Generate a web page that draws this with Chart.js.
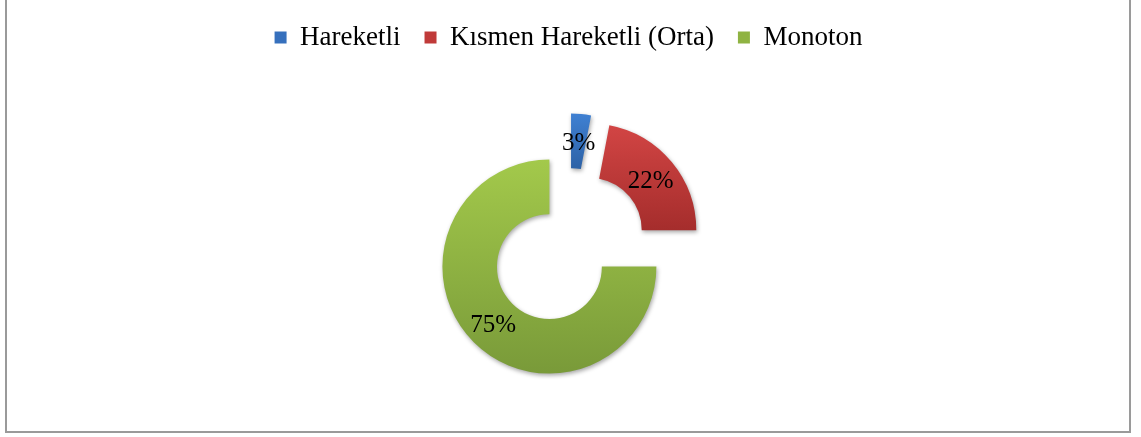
<!DOCTYPE html>
<html>
<head>
<meta charset="utf-8">
<script src="https://cdn.jsdelivr.net/npm/chart.js@4/dist/chart.umd.min.js"></script>
<style>
  body { margin: 0; background: #fff; overflow: hidden; }
  #wrap { position: relative; width: 1141px; height: 437px; }
  #frame {
    position: absolute; left: 5px; top: -10px; width: 1122px; height: 439px;
    border: 2px solid #9a9a9a; box-sizing: content-box; pointer-events: none;
  }
</style>
</head>
<body>
<div id="wrap">
  <canvas id="myDoughnut"></canvas>
  <div id="frame"></div>
</div>
<script>
// data
const categories = ["Hareketli", "Kısmen Hareketli (Orta)", "Monoton"];
const percentages = [3, 22, 75];

// top / bottom colours of each slice's gradient
const topColors = ["#3f80d2", "#d24544", "#a3c94b"];
const bottomColors = ["#2d62a6", "#a52d2c", "#799a39"];
const boxColors = ["#3670bd", "#c03a39", "#8fb342"];

const EXPLODE = 27; // how far each slice is pulled out

// draws each slice moved outwards along its middle angle, with a vertical gradient
const explodePlugin = {
  id: "explode",
  beforeDatasetDraw(chart, args) {
    const ctx = chart.ctx;
    args.meta.data.forEach((arc, i) => {
      const mid = (arc.startAngle + arc.endAngle) / 2;

      // vertical extent of the slice, for the gradient
      let top = Infinity, bottom = -Infinity;
      for (let k = 0; k <= 40; k++) {
        const a = arc.startAngle + (arc.endAngle - arc.startAngle) * k / 40;
        [arc.innerRadius, arc.outerRadius].forEach((r) => {
          const y = arc.y + Math.sin(a) * r;
          top = Math.min(top, y);
          bottom = Math.max(bottom, y);
        });
      }
      const grad = ctx.createLinearGradient(0, top, 0, bottom);
      grad.addColorStop(0, topColors[i]);
      grad.addColorStop(1, bottomColors[i]);
      arc.options.backgroundColor = grad;

      ctx.save();
      ctx.translate(Math.cos(mid) * EXPLODE, Math.sin(mid) * EXPLODE);
      ctx.shadowColor = "rgba(0, 0, 0, 0.35)";
      ctx.shadowBlur = 4;
      ctx.shadowOffsetX = 1;
      ctx.shadowOffsetY = 2;
      arc.draw(ctx);
      ctx.restore();
    });
    return false;
  },
  afterDatasetsDraw(chart) {
    const ctx = chart.ctx;
    const meta = chart.getDatasetMeta(0);
    ctx.save();
    ctx.font = "25px 'Liberation Serif', 'Times New Roman', serif";
    ctx.fillStyle = "#000";
    ctx.textAlign = "center";
    ctx.textBaseline = "middle";
    meta.data.forEach((arc, i) => {
      const mid = (arc.startAngle + arc.endAngle) / 2;
      const r = EXPLODE + (arc.innerRadius + arc.outerRadius) / 2;
      ctx.fillText(percentages[i] + "%", arc.x + Math.cos(mid) * r, arc.y + Math.sin(mid) * r + 2);
    });
    ctx.restore();
  }
};

const ctx = document.getElementById("myDoughnut").getContext("2d");
const myDoughnut = new Chart(ctx, {
  type: "doughnut",
  data: {
    labels: categories,
    datasets: [
      {
        data: percentages,
        backgroundColor: boxColors,
        borderWidth: 0,
        radius: 107,
        cutout: "49%",
      },
    ],
  },
  options: {
    responsive: true,
    maintainAspectRatio: false,
    animation: false,
    layout: {
      padding: { left: 0, right: 4, top: 0, bottom: 3 },
    },
    plugins: {
      tooltip: { enabled: false },
      legend: {
        position: "top",
        labels: {
          boxWidth: 12,
          boxHeight: 12,
          padding: 24,
          color: "#000",
          font: { family: "'Liberation Serif', 'Times New Roman', serif", size: 27 },
        },
      },
    },
  },
  plugins: [explodePlugin],
});
</script>
</body>
</html>
